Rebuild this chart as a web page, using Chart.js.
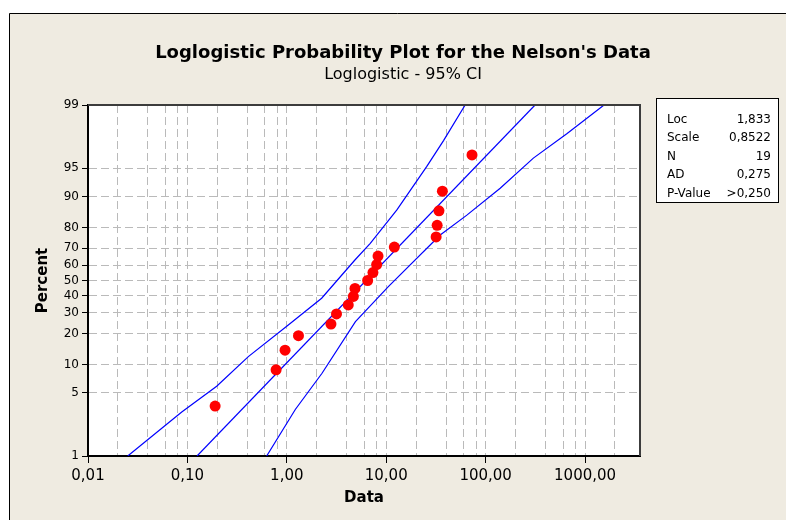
<!DOCTYPE html>
<html>
<head>
<meta charset="utf-8">
<title>Loglogistic Probability Plot for the Nelson's Data</title>
<script src="https://cdn.jsdelivr.net/npm/chart.js@4.4.1/dist/chart.umd.min.js"></script>
<style>
  html, body { margin: 0; padding: 0; background: #ffffff; }
  #plot { display: block; }
</style>
</head>
<body>
<canvas id="plot" width="786" height="520"></canvas>
<script>
'use strict';

// ***** DATA *****
const breakdownTimes = [0.19, 0.78, 0.96, 1.31, 2.78, 3.16, 4.15, 4.67, 4.85, 6.50,
  7.35, 8.01, 8.27, 12.06, 31.75, 32.52, 33.91, 36.71, 72.89];
const plotPercents = [3.6, 8.8, 13.9, 19.1, 24.2, 29.4, 34.5, 39.7, 44.8, 50.0,
  55.2, 60.3, 65.5, 70.6, 75.8, 80.9, 86.1, 91.2, 96.4];

// fitted line (ends read at 1% and 99%)
const fitTimes = [0.125, 314];
const fitPercents = [1, 99];

// 95% CI band, left curve
const ciLeftTimes = [0.0251, 0.0877, 0.197, 0.410, 1.035, 2.24, 4.84, 6.91, 12.8, 25.6, 37.7, 62.2];
const ciLeftPercents = [1, 3.1, 5.9, 12.0, 23.8, 38.6, 63.1, 72.6, 86.4, 95.2, 97.5, 99];

// 95% CI band, right curve
const ciRightTimes = [0.627, 1.217, 2.26, 4.9, 10.5, 34.9, 64.7, 140, 302, 655, 1552];
const ciRightPercents = [1, 3.3, 8.1, 25.4, 46, 76.7, 84.7, 91.8, 96.1, 97.9, 99];

// axis ticks
const percentTicks = [1, 5, 10, 20, 30, 40, 50, 60, 70, 80, 90, 95, 99];
const xTickValues = [0.01, 0.1, 1, 10, 100, 1000];
const xTickLabels = ['0,01', '0,10', '1,00', '10,00', '100,00', '1000,00'];
const xGridValues = [0.01, 0.02, 0.04, 0.06, 0.08, 0.1, 0.2, 0.4, 0.6, 0.8, 1, 2, 4, 6, 8,
  10, 20, 40, 60, 80, 100, 200, 400, 600, 800, 1000, 2000];

// stats table
const statLabels = ['Loc', 'Scale', 'N', 'AD', 'P-Value'];
const statValues = ['1,833', '0,8522', '19', '0,275', '>0,250'];

const chartTitle = 'Loglogistic Probability Plot for the Nelson\'s Data';
const chartSubtitle = 'Loglogistic - 95% CI';

const FONT = '"DejaVu Sans", Verdana, sans-serif';
Chart.defaults.font.family = FONT;
Chart.defaults.color = '#000000';

// ***** LOGIT (probability) SCALE *****
const logit = (p) => Math.log(p / (100 - p));
const BaseLinear = Chart.LinearScale || Chart.registry.getScale('linear');

class LogitScale extends BaseLinear {
  determineDataLimits() {
    this.min = this.options.min;
    this.max = this.options.max;
  }
  buildTicks() {
    return percentTicks.map(v => ({ value: v }));
  }
  getPixelForValue(value) {
    const lo = logit(this.min);
    const hi = logit(this.max);
    return this.getPixelForDecimal((logit(value) - lo) / (hi - lo));
  }
  getValueForPixel(pixel) {
    const lo = logit(this.min);
    const hi = logit(this.max);
    const z = lo + this.getDecimalForPixel(pixel) * (hi - lo);
    return 100 / (1 + Math.exp(-z));
  }
}
LogitScale.id = 'logit';
LogitScale.defaults = {};
Chart.register(LogitScale);

// ***** HELPERS *****
function toPoints(xs, ys) {
  let pts = [];
  for (let i = 0; i < xs.length; i++) {
    pts.push({ x: xs[i], y: ys[i] });
  }
  return pts;
}

function lineSet(xs, ys) {
  return {
    data: toPoints(xs, ys),
    showLine: true,
    borderColor: '#0000ff',
    borderWidth: 1.2,
    pointRadius: 0,
    fill: false,
    tension: 0
  };
}

// ***** PLUGIN: frame, titles, plot border, stats box *****
const decorations = {
  id: 'decorations',
  beforeDraw(chart) {
    const { ctx, chartArea: a } = chart;
    ctx.save();
    ctx.fillStyle = '#ffffff';
    ctx.fillRect(0, 0, chart.width, chart.height);
    ctx.fillStyle = '#efebe1';
    ctx.fillRect(9, 13, chart.width - 9, chart.height - 13);
    ctx.strokeStyle = '#000000';
    ctx.lineWidth = 1;
    ctx.beginPath();
    ctx.moveTo(9.5, chart.height);
    ctx.lineTo(9.5, 13.5);
    ctx.lineTo(chart.width, 13.5);
    ctx.stroke();
    ctx.fillStyle = '#ffffff';
    ctx.fillRect(a.left, a.top, a.right - a.left, a.bottom - a.top);
    ctx.restore();
  },
  afterDraw(chart) {
    const { ctx, chartArea: a } = chart;
    ctx.save();

    // top and right edges of the plot
    ctx.strokeStyle = '#3c3c3c';
    ctx.lineWidth = 2;
    ctx.beginPath();
    ctx.moveTo(a.left, a.top);
    ctx.lineTo(a.right, a.top);
    ctx.lineTo(a.right, a.bottom);
    ctx.stroke();

    // titles
    ctx.fillStyle = '#000000';
    ctx.textAlign = 'center';
    ctx.textBaseline = 'alphabetic';
    ctx.font = 'bold 18px ' + FONT;
    ctx.fillText(chartTitle, 403, 58);
    ctx.font = '16px ' + FONT;
    ctx.fillText(chartSubtitle, 403, 79);

    // stats box
    ctx.fillStyle = '#ffffff';
    ctx.fillRect(657, 99, 121, 103);
    ctx.strokeStyle = '#000000';
    ctx.lineWidth = 1;
    ctx.strokeRect(656.5, 98.5, 122, 104);
    ctx.fillStyle = '#000000';
    ctx.font = '12px ' + FONT;
    for (let i = 0; i < statLabels.length; i++) {
      const y = 123 + i * 18.4;
      ctx.textAlign = 'left';
      ctx.fillText(statLabels[i], 667, y);
      ctx.textAlign = 'right';
      ctx.fillText(statValues[i], 771, y);
    }
    ctx.restore();
  }
};

// ***** CHART *****
const ctx = document.getElementById('plot').getContext('2d');

new Chart(ctx, {
  type: 'scatter',
  data: {
    datasets: [
      {
        data: toPoints(breakdownTimes, plotPercents),
        backgroundColor: '#ff0000',
        borderWidth: 0,
        pointRadius: 5.5,
        pointHoverRadius: 5.5
      },
      lineSet(fitTimes, fitPercents),
      lineSet(ciLeftTimes, ciLeftPercents),
      lineSet(ciRightTimes, ciRightPercents)
    ]
  },
  options: {
    responsive: false,
    animation: false,
    devicePixelRatio: 1,
    layout: { padding: { top: 105, right: 146, left: 0, bottom: 0 } },
    plugins: {
      legend: { display: false },
      tooltip: { enabled: false },
      title: { display: false }
    },
    scales: {
      x: {
        type: 'logarithmic',
        min: 0.01,
        max: 3570,
        afterBuildTicks: (axis) => {
          axis.ticks = xGridValues.map(v => ({ value: v }));
        },
        afterFit: (axis) => { axis.height = 64; },
        ticks: {
          autoSkip: false,
          maxRotation: 0,
          padding: 4,
          color: '#000000',
          font: { size: 15 },
          callback: (value) => {
            const i = xTickValues.indexOf(value);
            return i >= 0 ? xTickLabels[i] : '';
          }
        },
        grid: {
          color: '#bababa',
          lineWidth: 1,
          tickLength: 7,
          tickBorderDash: [],
          tickColor: (c) => (c.tick && xTickValues.includes(c.tick.value)) ? '#000000' : 'rgba(0,0,0,0)'
        },
        border: { color: '#000000', width: 2, dash: [8, 4] },
        title: {
          display: true,
          text: 'Data',
          color: '#000000',
          font: { size: 15, weight: 'bold' },
          padding: { top: 0, bottom: 13 }
        }
      },
      y: {
        type: 'logit',
        min: 1,
        max: 99,
        afterFit: (axis) => { axis.width = 88; },
        ticks: {
          autoSkip: false,
          padding: 3,
          color: '#000000',
          font: { size: 12 },
          callback: (value) => String(value)
        },
        grid: {
          color: '#bababa',
          lineWidth: 1,
          tickLength: 6,
          tickBorderDash: [],
          tickColor: '#000000'
        },
        border: { color: '#000000', width: 2, dash: [8, 4] },
        title: {
          display: true,
          text: 'Percent',
          color: '#000000',
          font: { size: 15, weight: 'bold' },
          padding: { top: 34, bottom: 0 }
        }
      }
    }
  },
  plugins: [decorations]
});
</script>
</body>
</html>
